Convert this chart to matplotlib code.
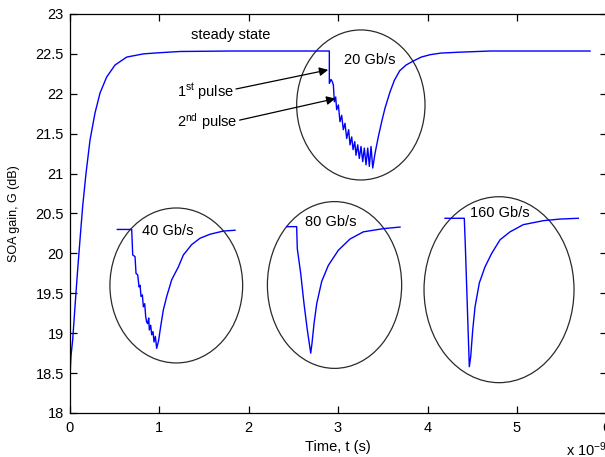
import matplotlib
matplotlib.use("Agg")
import matplotlib.pyplot as plt
from matplotlib.patches import Ellipse

plt.rcParams['font.family'] = ['Liberation Sans', 'DejaVu Sans']
plt.rcParams['mathtext.default'] = 'regular'

# main trace, time in ns, gain in dB (20 Gb/s pulse train at ~2.9 ns)
main_t = [0.0, 0.006, 0.012, 0.017, 0.035, 0.061, 0.088, 0.117, 0.147, 0.184,
          0.229, 0.285, 0.341, 0.415, 0.508, 0.639, 0.825, 1.011, 1.235, 1.8,
          2.903, 2.903, 2.922, 2.937, 2.948, 2.959, 2.974, 2.985, 3.004, 3.022,
          3.041, 3.059, 3.078, 3.097, 3.119, 3.134, 3.153, 3.168, 3.187, 3.201,
          3.220, 3.238, 3.257, 3.276, 3.294, 3.313, 3.332, 3.350, 3.369, 3.388,
          3.413, 3.450, 3.488, 3.525, 3.58, 3.63, 3.69, 3.76, 3.84, 3.93,
          4.03, 4.15, 4.33, 4.70, 5.2, 5.816]
main_g = [18.16, 18.45, 18.62, 18.72, 18.91, 19.33, 19.75, 20.17, 20.59, 21.00,
          21.42, 21.76, 22.01, 22.21, 22.36, 22.46, 22.50, 22.515, 22.53, 22.536,
          22.536, 22.13, 22.18, 22.15, 22.11, 21.90, 21.96, 21.80, 21.86, 21.65,
          21.73, 21.55, 21.63, 21.44, 21.55, 21.36, 21.46, 21.30, 21.40, 21.23,
          21.36, 21.19, 21.34, 21.15, 21.32, 21.11, 21.32, 21.09, 21.34, 21.07,
          21.25, 21.46, 21.65, 21.82, 22.02, 22.17, 22.29, 22.36, 22.41, 22.46,
          22.49, 22.51, 22.52, 22.536, 22.536, 22.536]

# 40 Gb/s inset trace
t40 = [0.534, 0.695, 0.706, 0.732, 0.743, 0.762, 0.777, 0.788, 0.799, 0.814,
       0.825, 0.840, 0.851, 0.862, 0.873, 0.885, 0.892, 0.907, 0.918, 0.933,
       0.944, 0.959, 0.974, 0.996, 1.018, 1.048, 1.086, 1.142, 1.216, 1.272,
       1.365, 1.458, 1.570, 1.719, 1.849]
g40 = [20.30, 20.30, 19.98, 19.96, 19.75, 19.73, 19.58, 19.60, 19.46, 19.48,
       19.33, 19.37, 19.21, 19.14, 19.12, 19.19, 19.04, 19.10, 18.98, 19.02,
       18.89, 18.96, 18.81, 18.91, 19.08, 19.29, 19.46, 19.67, 19.83, 19.98,
       20.11, 20.19, 20.24, 20.28, 20.29]

# 80 Gb/s inset trace
t80 = [2.427, 2.538, 2.545, 2.583, 2.620, 2.657, 2.695, 2.709, 2.732, 2.762,
       2.818, 2.892, 3.004, 3.134, 3.283, 3.506, 3.693]
g80 = [20.335, 20.335, 20.06, 19.75, 19.37, 19.04, 18.75, 18.87, 19.12, 19.37,
       19.65, 19.85, 20.04, 20.18, 20.27, 20.31, 20.33]

# 160 Gb/s inset trace
t160 = [4.196, 4.411, 4.423, 4.445, 4.467, 4.483, 4.505, 4.531, 4.579, 4.642,
        4.717, 4.810, 4.922, 5.070, 5.294, 5.480, 5.685]
g160 = [20.44, 20.44, 20.08, 19.33, 18.58, 18.71, 19.04, 19.33, 19.63, 19.83,
        20.00, 20.17, 20.27, 20.36, 20.41, 20.43, 20.44]

# ellipses: center t, center G, width, height, label
ell_x = [3.255, 1.193, 2.961, 4.799]
ell_y = [21.86, 19.598, 19.604, 19.545]
ell_w = [1.434, 1.483, 1.50, 1.676]
ell_h = [1.88, 1.942, 2.09, 2.33]
rate_labels = ['20 Gb/s', '40 Gb/s', '80 Gb/s', '160 Gb/s']
rate_label_x = [3.36, 1.10, 2.916, 4.81]
rate_label_y = [22.42, 20.28, 20.39, 20.51]

xticks = [0, 1, 2, 3, 4, 5, 6]
yticks = [18, 18.5, 19, 19.5, 20, 20.5, 21, 21.5, 22, 22.5, 23]
yticklabels = ['18', '18.5', '19', '19.5', '20', '20.5', '21', '21.5', '22', '22.5', '23']

fig = plt.figure(figsize=(6.05, 4.57), dpi=100)
ax = fig.add_axes([0.1149, 0.0963, 0.8876, 0.8731])

blue = '#0000ff'
ax.plot(main_t, main_g, color=blue, lw=1)
ax.plot(t40, g40, color=blue, lw=1)
ax.plot(t80, g80, color=blue, lw=1)
ax.plot(t160, g160, color=blue, lw=1)

for cx, cy, w, h in zip(ell_x, ell_y, ell_w, ell_h):
    ax.add_patch(Ellipse((cx, cy), w, h, fill=False, edgecolor='#2a2a2a', lw=0.9))

fs = 10.5
for lab, lx, ly in zip(rate_labels, rate_label_x, rate_label_y):
    ax.text(lx, ly, lab, ha='center', va='center', fontsize=fs)

ax.text(1.8, 22.74, 'steady state', ha='center', va='center', fontsize=fs)
ax.text(1.20, 22.02, '1$^{st}$ pulse', ha='left', va='center', fontsize=fs)
ax.text(1.20, 21.65, '2$^{nd}$ pulse', ha='left', va='center', fontsize=fs)
arrow = dict(arrowstyle='-|>', color='k', lw=0.9, mutation_scale=13, shrinkA=0, shrinkB=0)
ax.annotate('', xy=(2.89, 22.30), xytext=(1.86, 22.06), arrowprops=arrow)
ax.annotate('', xy=(2.97, 21.94), xytext=(1.90, 21.67), arrowprops=arrow)

ax.set_xlim(0, 6)
ax.set_ylim(18, 23)
ax.set_xticks(xticks)
ax.set_xticklabels([str(x) for x in xticks])
ax.set_yticks(yticks)
ax.set_yticklabels(yticklabels)
ax.tick_params(direction='in', length=5, width=0.9, top=True, right=True,
               labelsize=fs)
ax.tick_params(axis='x', pad=5.5)
ax.tick_params(axis='y', pad=4)
for s in ax.spines.values():
    s.set_linewidth(0.9)

ax.set_xlabel('Time, t (s)', fontsize=fs, labelpad=4)
ax.set_ylabel('SOA gain, G (dB)', fontsize=9, labelpad=11)
fig.text(566 / 605, 1 - 450 / 457, 'x 10$^{-9}$', ha='left', va='center', fontsize=fs)

fig.savefig('out.png', dpi=100)
